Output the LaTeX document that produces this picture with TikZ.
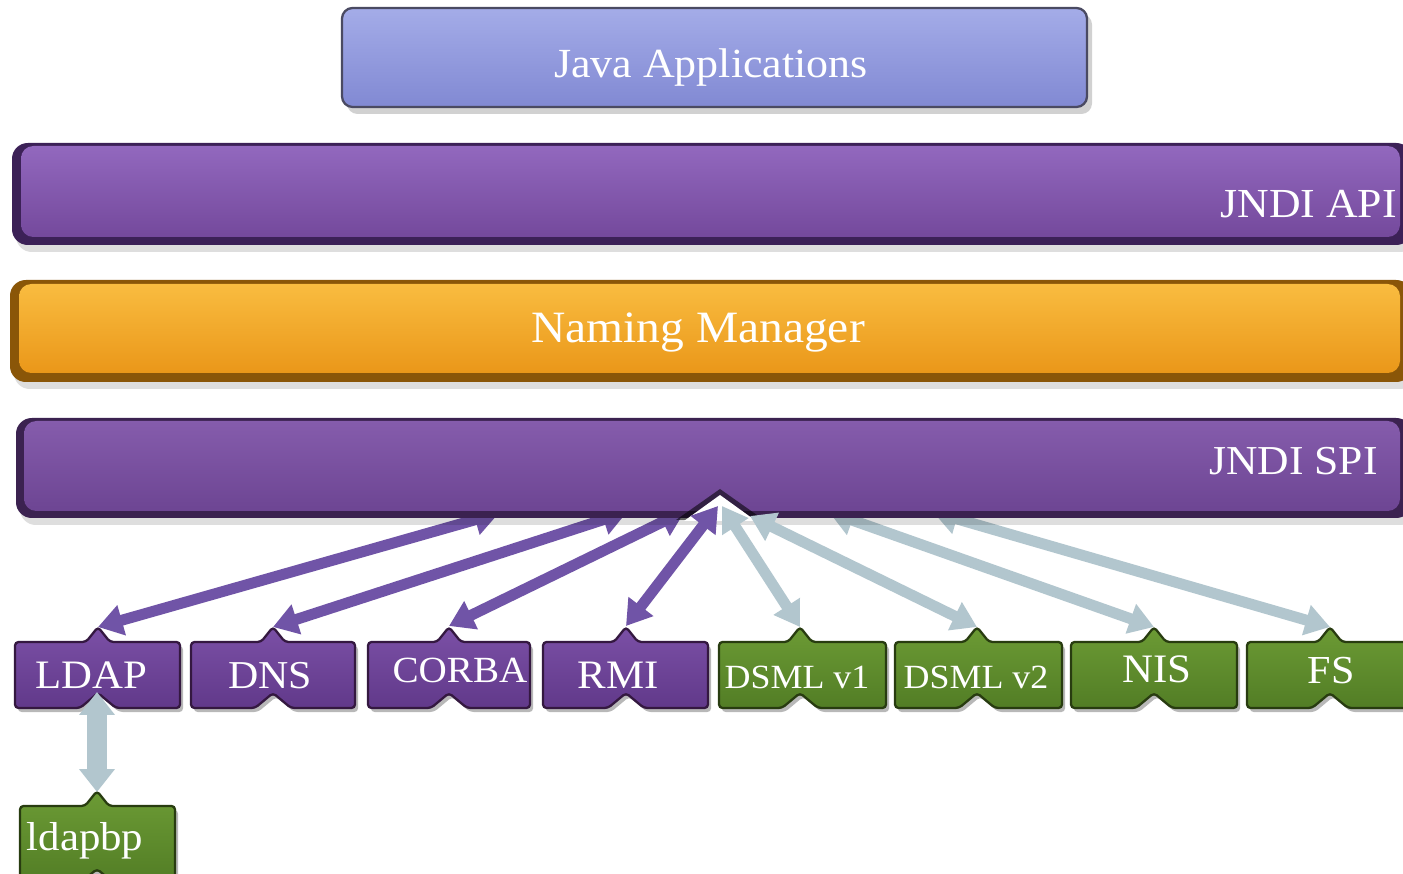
\documentclass[tikz,border=0pt]{standalone}
\usepackage{fontspec}
\setmainfont{Liberation Serif}[FakeStretch=1.06]
\usetikzlibrary{arrows.meta}
\definecolor{javaTop}{HTML}{A4ACE8}
\definecolor{javaBot}{HTML}{8189D3}
\definecolor{javaEdge}{HTML}{4A4A62}
\definecolor{apiDark}{HTML}{3C2157}
\definecolor{apiLight}{HTML}{9268BE}
\definecolor{apiMain}{HTML}{7F52A5}
\definecolor{apiLow}{HTML}{74499C}
\definecolor{nmDark}{HTML}{8A5608}
\definecolor{nmLight}{HTML}{F9BC40}
\definecolor{nmMain}{HTML}{F2A022}
\definecolor{nmLow}{HTML}{EA9719}
\definecolor{spiDark}{HTML}{3B2250}
\definecolor{spiLight}{HTML}{855CAC}
\definecolor{spiMain}{HTML}{744B99}
\definecolor{spiLow}{HTML}{6D4593}
\definecolor{pTop}{HTML}{7B50A6}
\definecolor{pBot}{HTML}{61398A}
\definecolor{pEdge}{HTML}{341840}
\definecolor{gTop}{HTML}{6C9B35}
\definecolor{gBot}{HTML}{527D25}
\definecolor{gEdge}{HTML}{283C10}
\definecolor{arrP}{HTML}{7054A7}
\definecolor{arrG}{HTML}{B2C6CE}
\newcommand\pzbox[6]{%
  \path[fill=black, opacity=0.28, rounded corners=2pt, shift={(3,4)}]
    (#1,#4) -- ({#3-12},#4) -- (#3,{#4-15}) -- ({#3+12},#4) -- (#2,#4)
    -- (#2,#5) -- ({#3+18},#5) -- (#3,{#5-15}) -- ({#3-18},#5) -- (#1,#5) -- cycle;
  \path[#6, rounded corners=2pt]
    (#1,#4) -- ({#3-12},#4) -- (#3,{#4-15}) -- ({#3+12},#4) -- (#2,#4)
    -- (#2,#5) -- ({#3+18},#5) -- (#3,{#5-15}) -- ({#3-18},#5) -- (#1,#5) -- cycle;
}
\begin{document}
\begin{tikzpicture}[x=0.02cm,y=-0.02cm,
  lbl/.style={text=white, inner sep=0pt, font=\fontsize{23}{26}\selectfont},
  pbox/.style={shade, top color=pTop, bottom color=pBot, draw=pEdge, line width=1.3pt},
  gbox/.style={shade, top color=gTop, bottom color=gBot, draw=gEdge, line width=1.3pt},
  parr/.style={draw=arrP, line width=6.2pt, <->, >={Triangle[width=17pt,length=14pt]}},
  garr/.style={draw=arrG, line width=6.2pt, <->, >={Triangle[width=17pt,length=14pt]}},
  vgarr/.style={draw=arrG, line width=11pt, <->, >={Triangle[width=19.5pt,length=13pt]}},
  barshadow/.style={fill=black, opacity=0.13, rounded corners=9pt}
]
\fill[white] (0,0) rectangle (1403,874);
\useasboundingbox (0,0) rectangle (1403,874);

% ---------- Java Applications ----------
\path[fill=black, opacity=0.18, rounded corners=6pt] (347,14) rectangle (1092,114);
\path[shade, top color=javaTop, bottom color=javaBot, draw=javaEdge, line width=1.3pt, rounded corners=6pt]
  (342,8) rectangle (1087,107);
\node[lbl, anchor=base, font=\fontsize{23.6}{27}\selectfont] (java) at (711,78) {Java Applications};

% ---------- JNDI API ----------
\path[barshadow] (16,150) rectangle (1416,252);
\path[fill=apiDark, rounded corners=9pt] (12,143) rectangle (1412,245);
\path[shade, top color=apiLight, middle color=apiMain, bottom color=apiLow, rounded corners=7pt]
  (21,146) rectangle (1400,237);
\node[lbl, anchor=base east, font=\fontsize{23.5}{27}\selectfont] (api) at (1397,218) {JNDI API};

% ---------- Naming Manager ----------
\path[barshadow] (14,287) rectangle (1416,389);
\path[fill=nmDark, rounded corners=9pt] (10,280) rectangle (1412,382);
\path[shade, top color=nmLight, middle color=nmMain, bottom color=nmLow, rounded corners=7pt]
  (19,284) rectangle (1400,373);
\node[lbl, anchor=base, font=\fontsize{25.5}{29}\selectfont] (nm) at (698,343) {Naming Manager};

% ---------- bottom boxes ----------
\pzbox{15}{180}{98}{642}{708}{pbox}
\pzbox{191}{355}{273}{642}{708}{pbox}
\pzbox{368}{530}{449}{642}{708}{pbox}
\pzbox{543}{708}{626}{642}{708}{pbox}
\pzbox{719}{886}{800}{642}{708}{gbox}
\pzbox{895}{1062}{977}{642}{708}{gbox}
\pzbox{1071}{1237}{1154}{642}{708}{gbox}
\pzbox{1247}{1412}{1330}{642}{708}{gbox}
\pzbox{20}{175}{97}{806}{884}{gbox}

\node[lbl, anchor=base] (ldap)  at (91,688)  {LDAP};
\node[lbl, anchor=base, font=\fontsize{22.5}{26}\selectfont] (dns) at (270,688) {DNS};
\node[lbl, anchor=base, font=\fontsize{21}{24}\selectfont] (corba) at (460,682) {CORBA};
\node[lbl, anchor=base] (rmi)   at (618,688) {RMI};
\node[lbl, anchor=base, font=\fontsize{19.3}{23}\selectfont] (dsml1) at (797,688) {DSML v1};
\node[lbl, anchor=base, font=\fontsize{19.3}{23}\selectfont] (dsml2) at (976,688) {DSML v2};
\node[lbl, anchor=base] (nis)   at (1157,682) {NIS};
\node[lbl, anchor=base, font=\fontsize{22.6}{26}\selectfont] (fs) at (1331,683) {FS};
\node[lbl, anchor=base] (ldapbp) at (85,850) {ldapbp};

% bump / notch points
\coordinate (ldapT)  at (98,627);
\coordinate (ldapN)  at (97,692);
\coordinate (dnsT)   at (273,627);
\coordinate (corbaT) at (449,626);
\coordinate (rmiT)   at (626,626);
\coordinate (dsml1T) at (800,627);
\coordinate (dsml2T) at (977,627);
\coordinate (nisT)   at (1154,627);
\coordinate (fsT)    at (1330,627);
\coordinate (ldapbpT) at (97,792);

% points on the SPI bar
\coordinate (spiA) at (499,513);
\coordinate (spiB) at (627,512);
\coordinate (spiC) at (685,511);
\coordinate (spiD) at (718,506);
\coordinate (spiE) at (722,506);
\coordinate (spiF) at (750,516);
\coordinate (spiG) at (829,512);
\coordinate (spiH) at (933,512);

% arrows partly hidden under the bar
\draw[parr] (ldapT) -- (spiA);
\draw[parr] (dnsT) -- (spiB);
\draw[parr] (corbaT) -- (spiC);
\draw[garr] (nisT) -- (spiG);
\draw[garr] (fsT) -- (spiH);

% ---------- JNDI SPI ----------
\path[barshadow] (20,425) rectangle (1416,525);
\path[fill=spiDark, rounded corners=9pt] (16,418) rectangle (1412,518);
\path[shade, top color=spiLight, middle color=spiMain, bottom color=spiLow, rounded corners=7pt]
  (24,421) rectangle (1400,511);
\node[lbl, anchor=base east, font=\fontsize{23.4}{27}\selectfont] (spi) at (1378,475) {JNDI SPI};
% notch
\path[fill=black, opacity=0.55] (676,520) -- (720,489) -- (764,520) -- cycle;
\path[fill=white] (684,521) -- (720,495) -- (756,521) -- cycle;

% arrows on top
\draw[parr] (rmiT) -- (spiD);
\draw[garr] (dsml1T) -- (spiE);
\draw[garr] (dsml2T) -- (spiF);
\draw[vgarr] (ldapN) -- (ldapbpT);
\end{tikzpicture}
\end{document}
